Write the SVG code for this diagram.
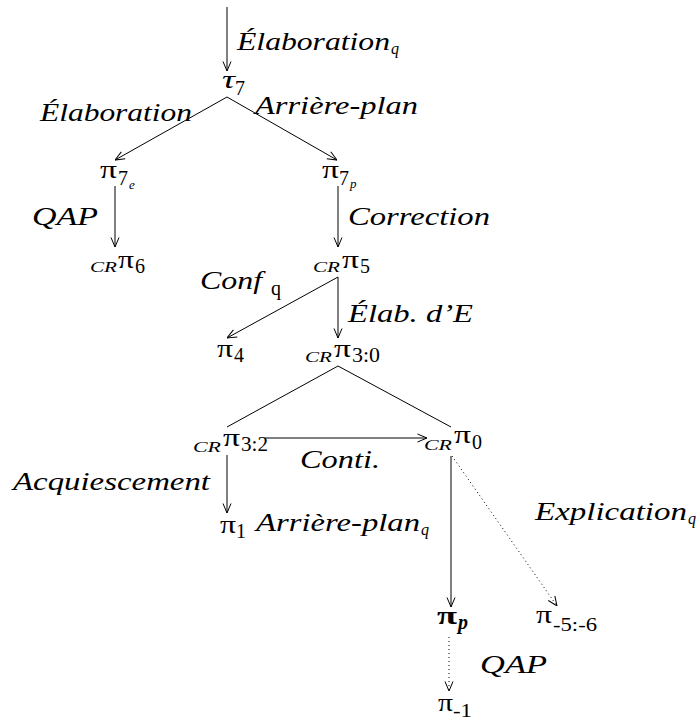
<svg xmlns="http://www.w3.org/2000/svg" width="696" height="720" viewBox="0 0 696 720">
<style>
text{font-family:"Liberation Serif",serif;fill:#000}
.lbl{font-style:italic;font-size:26px}
.pi{font-size:26px}
.sub{font-size:20px}
.ssub{font-size:13px;font-style:italic}
.cr{font-style:italic;font-size:14px}
.e{stroke:#000;stroke-width:1;fill:none}
.d{stroke-dasharray:1,3}
</style>
<defs>
<marker id="ah" viewBox="0 0 10 10" refX="10" refY="5" markerWidth="10" markerHeight="10" markerUnits="userSpaceOnUse" orient="auto">
<path d="M0.5,1 L10,5 L0.5,9" fill="none" stroke="#000" stroke-width="1"/>
</marker>
</defs>
<rect width="696" height="720" fill="#fff"/>
<g id="connectors">
<line class="e" x1="227" y1="7" x2="227" y2="71" marker-end="url(#ah)"/>
<line class="e" x1="227" y1="97" x2="115" y2="160" marker-end="url(#ah)"/>
<line class="e" x1="227" y1="97" x2="337" y2="160" marker-end="url(#ah)"/>
<line class="e" x1="115" y1="186" x2="115" y2="247" marker-end="url(#ah)"/>
<line class="e" x1="338" y1="186" x2="338" y2="247" marker-end="url(#ah)"/>
<line class="e" x1="338" y1="277" x2="227" y2="338" marker-end="url(#ah)"/>
<line class="e" x1="338" y1="277" x2="338" y2="338" marker-end="url(#ah)"/>
<line class="e" x1="338" y1="366" x2="227" y2="427"/>
<line class="e" x1="338" y1="366" x2="451" y2="427"/>
<line class="e" x1="265" y1="438" x2="427" y2="438" marker-end="url(#ah)"/>
<line class="e" x1="227" y1="455" x2="227" y2="513" marker-end="url(#ah)"/>
<line class="e" x1="451" y1="456" x2="451" y2="607" marker-end="url(#ah)"/>
<line class="e d" x1="452" y1="456" x2="557" y2="606" marker-end="url(#ah)"/>
<line class="e d" x1="449" y1="637" x2="449" y2="691" marker-end="url(#ah)"/>
</g>
<g id="labels">
<text class="lbl" x="237" y="50"><tspan textLength="153" lengthAdjust="spacingAndGlyphs">Élaboration</tspan><tspan font-size="16" x="391" y="54">q</tspan></text>
<text class="lbl" x="40" y="121" textLength="152" lengthAdjust="spacingAndGlyphs">Élaboration</text>
<text class="lbl" x="255" y="114" textLength="163" lengthAdjust="spacingAndGlyphs">Arrière-plan</text>
<text class="lbl" x="32" y="225" textLength="66" lengthAdjust="spacingAndGlyphs">QAP</text>
<text class="lbl" x="348" y="225" textLength="142" lengthAdjust="spacingAndGlyphs">Correction</text>
<text class="lbl" x="200" y="289"><tspan textLength="62" lengthAdjust="spacingAndGlyphs">Conf</tspan><tspan font-style="normal" font-size="20" x="271" y="295">q</tspan></text>
<text class="lbl" x="348" y="322" textLength="125" lengthAdjust="spacingAndGlyphs">Élab. d’E</text>
<text class="lbl" x="300" y="468" textLength="80" lengthAdjust="spacingAndGlyphs">Conti.</text>
<text class="lbl" x="13" y="490" textLength="197" lengthAdjust="spacingAndGlyphs">Acquiescement</text>
<text class="lbl" x="256" y="531"><tspan textLength="164" lengthAdjust="spacingAndGlyphs">Arrière-plan</tspan><tspan font-size="16" x="421" y="535">q</tspan></text>
<text class="lbl" x="535" y="520"><tspan textLength="152" lengthAdjust="spacingAndGlyphs">Explication</tspan><tspan font-size="16" x="688" y="524">q</tspan></text>
<text class="lbl" x="480" y="673" textLength="67" lengthAdjust="spacingAndGlyphs">QAP</text>
</g>
<g id="tau7"><text><tspan class="pi" font-style="italic" x="222" y="88" textLength="13" lengthAdjust="spacingAndGlyphs">τ</tspan><tspan class="sub" x="235" y="95">7</tspan></text></g>
<g id="pi7e"><text><tspan class="pi" x="100" y="178" textLength="17" lengthAdjust="spacingAndGlyphs">π</tspan><tspan class="sub" x="118" y="185">7</tspan><tspan class="ssub" x="129" y="189">e</tspan></text></g>
<g id="pi7p"><text><tspan class="pi" x="322" y="178" textLength="17" lengthAdjust="spacingAndGlyphs">π</tspan><tspan class="sub" x="339" y="185">7</tspan><tspan class="ssub" x="350" y="188">p</tspan></text></g>
<g id="pi6"><text><tspan class="cr" x="90" y="272" textLength="27" lengthAdjust="spacingAndGlyphs">CR</tspan><tspan class="pi" x="118" y="268" textLength="16" lengthAdjust="spacingAndGlyphs">π</tspan><tspan class="sub" x="135" y="273">6</tspan></text></g>
<g id="pi5"><text><tspan class="cr" x="313" y="272" textLength="27" lengthAdjust="spacingAndGlyphs">CR</tspan><tspan class="pi" x="342" y="268" textLength="17" lengthAdjust="spacingAndGlyphs">π</tspan><tspan class="sub" x="360" y="273">5</tspan></text></g>
<g id="pi4"><text><tspan class="pi" x="217" y="357" textLength="16" lengthAdjust="spacingAndGlyphs">π</tspan><tspan class="sub" x="234" y="362">4</tspan></text></g>
<g id="pi30"><text><tspan class="cr" x="305" y="362" textLength="27" lengthAdjust="spacingAndGlyphs">CR</tspan><tspan class="pi" x="334" y="357" textLength="17" lengthAdjust="spacingAndGlyphs">π</tspan><tspan class="sub" x="352" y="362" textLength="28" lengthAdjust="spacingAndGlyphs">3:0</tspan></text></g>
<g id="pi32"><text><tspan class="cr" x="193" y="452" textLength="28" lengthAdjust="spacingAndGlyphs">CR</tspan><tspan class="pi" x="223" y="446" textLength="17" lengthAdjust="spacingAndGlyphs">π</tspan><tspan class="sub" x="241" y="451" textLength="27" lengthAdjust="spacingAndGlyphs">3:2</tspan></text></g>
<g id="pi0"><text><tspan class="cr" x="424" y="450" textLength="28" lengthAdjust="spacingAndGlyphs">CR</tspan><tspan class="pi" x="454" y="443" textLength="17" lengthAdjust="spacingAndGlyphs">π</tspan><tspan class="sub" x="472" y="449">0</tspan></text></g>
<g id="pi1"><text><tspan class="pi" x="220" y="533" textLength="16" lengthAdjust="spacingAndGlyphs">π</tspan><tspan class="sub" x="236" y="538">1</tspan></text></g>
<g id="pip"><text><tspan class="pi" font-weight="bold" x="437" y="624" textLength="20" lengthAdjust="spacingAndGlyphs">π</tspan><tspan font-weight="bold" font-style="italic" font-size="20" x="458" y="629">p</tspan></text></g>
<g id="pi56"><text><tspan class="pi" x="536" y="623" textLength="16" lengthAdjust="spacingAndGlyphs">π</tspan><tspan font-size="18" x="553" y="631" textLength="44" lengthAdjust="spacingAndGlyphs">-5:-6</tspan></text></g>
<g id="pim1"><text><tspan class="pi" x="438" y="711" textLength="15" lengthAdjust="spacingAndGlyphs">π</tspan><tspan font-size="18" x="453" y="717" textLength="19" lengthAdjust="spacingAndGlyphs">-1</tspan></text></g>
</svg>
